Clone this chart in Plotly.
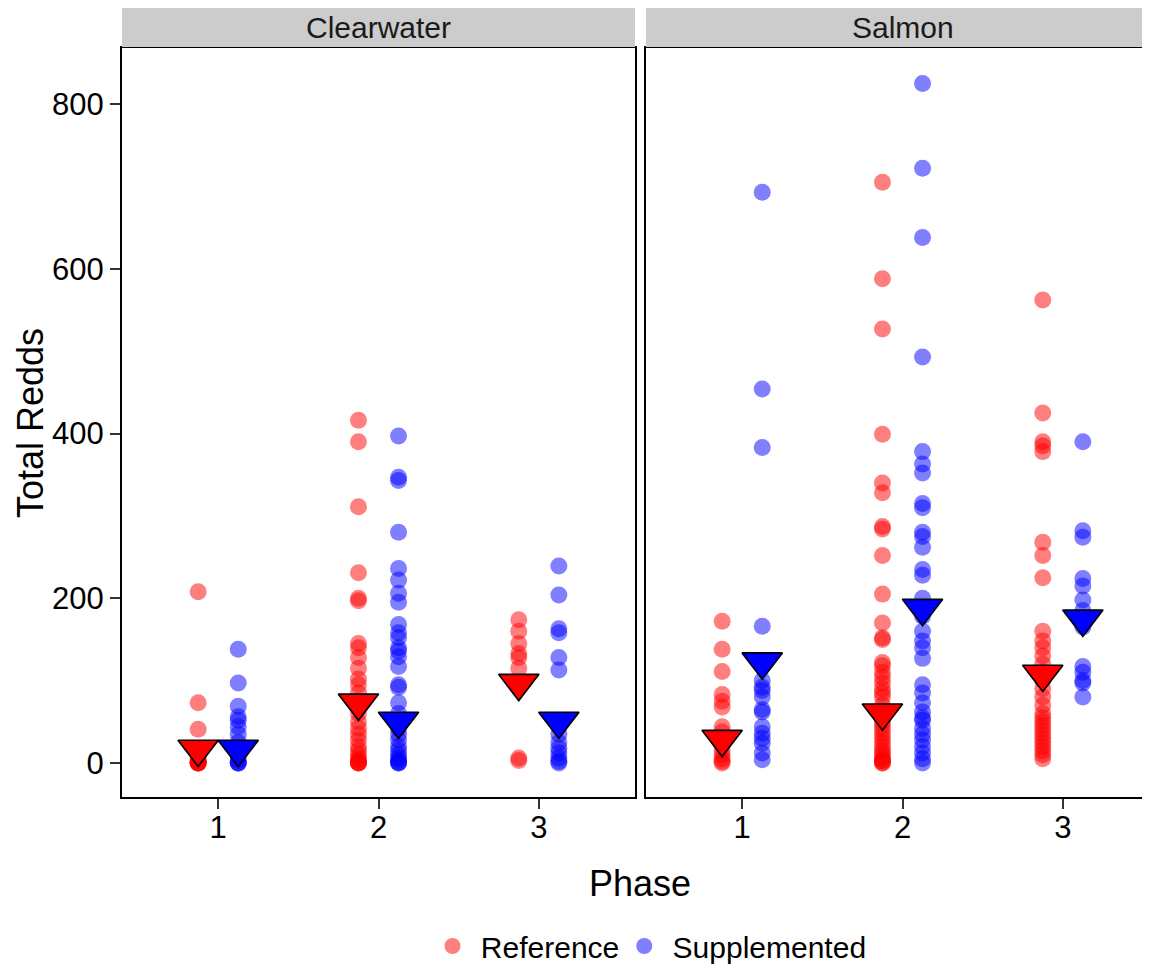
import plotly.graph_objects as go

phases = [1, 2, 3]
rivers = ["Clearwater", "Salmon"]
groups = ["Reference", "Supplemented"]

# Clearwater redds by phase
cw_ref_p1 = [208, 73, 41, 10, 5, 3, 2, 0, 0, 0, 0, 0]
cw_ref_p2 = [416, 390, 311, 231, 200, 197, 145, 140, 128, 115, 102, 95, 85, 72, 60, 50,
             42, 35, 28, 20, 15, 10, 6, 3, 1, 0, 0, 0]
cw_ref_p3 = [174, 160, 145, 133, 128, 115, 6, 3]
cw_sup_p1 = [138, 97, 69, 56, 52, 44, 35, 25, 15, 8, 3, 0, 0, 0]
cw_sup_p2 = [397, 347, 343, 280, 236, 222, 206, 195, 168, 158, 152, 140, 136, 129, 117, 95,
             92, 73, 60, 50, 42, 35, 28, 20, 15, 10, 6, 3, 1, 0, 0]
cw_sup_p3 = [239, 204, 163, 158, 128, 113, 45, 35, 25, 18, 12, 6, 2, 0]

# Salmon redds by phase
sa_ref_p1 = [172, 138, 111, 83, 75, 68, 44, 38, 30, 22, 15, 10, 5, 2, 0]
sa_ref_p2 = [705, 588, 527, 399, 340, 328, 287, 284, 252, 205, 170, 152, 150, 122, 118, 110,
             104, 97, 90, 85, 80, 70, 60, 55, 50, 45, 40, 35, 30, 25, 20, 15, 12, 8, 5, 3, 2, 0, 0]
sa_ref_p3 = [562, 425, 390, 385, 378, 268, 252, 225, 160, 148, 140, 130, 120, 110, 100, 90,
             80, 70, 60, 55, 50, 45, 40, 35, 30, 25, 20, 15, 10, 5]
sa_sup_p1 = [693, 454, 383, 166, 100, 92, 88, 80, 65, 62, 44, 36, 30, 24, 12, 4]
sa_sup_p2 = [825, 722, 638, 493, 378, 363, 352, 315, 310, 280, 275, 262, 235, 228, 200, 178,
             160, 148, 140, 127, 95, 85, 73, 62, 55, 52, 42, 35, 28, 20, 12, 5, 0]
sa_sup_p3 = [390, 282, 274, 224, 215, 198, 185, 165, 117, 110, 100, 97, 80]

# group means (triangles)
cw_ref_mean = [17, 73, 97]
cw_sup_mean = [17, 51, 51]
sa_ref_mean = [29, 61, 108]
sa_sup_mean = [123, 188, 175]

points = {
    ("Clearwater", "Reference"): [cw_ref_p1, cw_ref_p2, cw_ref_p3],
    ("Clearwater", "Supplemented"): [cw_sup_p1, cw_sup_p2, cw_sup_p3],
    ("Salmon", "Reference"): [sa_ref_p1, sa_ref_p2, sa_ref_p3],
    ("Salmon", "Supplemented"): [sa_sup_p1, sa_sup_p2, sa_sup_p3],
}
means = {
    ("Clearwater", "Reference"): cw_ref_mean,
    ("Clearwater", "Supplemented"): cw_sup_mean,
    ("Salmon", "Reference"): sa_ref_mean,
    ("Salmon", "Supplemented"): sa_sup_mean,
}

pt_col = {"Reference": "rgba(255,0,0,0.5)", "Supplemented": "rgba(0,0,255,0.5)"}
mean_col = {"Reference": "#FF0000", "Supplemented": "#0000FF"}
dodge = {"Reference": -0.125, "Supplemented": 0.125}
FONT = "Liberation Sans, Arial, sans-serif"

fig = go.Figure()
for i, river in enumerate(rivers):
    xa = "x" if i == 0 else "x2"
    ya = "y" if i == 0 else "y2"
    for g in groups:
        xs, ys = [], []
        for ph, vals in zip(phases, points[(river, g)]):
            xs += [ph + dodge[g]] * len(vals)
            ys += vals
        fig.add_trace(go.Scatter(
            x=xs, y=ys, mode="markers", name=" " + g, legendgroup=g, showlegend=(i == 0),
            marker=dict(size=17, color=pt_col[g], line=dict(width=0)),
            xaxis=xa, yaxis=ya, hoverinfo="skip"))
    for g in groups:
        fig.add_trace(go.Scatter(
            x=[ph + dodge[g] for ph in phases], y=means[(river, g)], mode="markers",
            showlegend=False,
            marker=dict(symbol="triangle-down", size=35, color=mean_col[g],
                        line=dict(width=1.6, color="black")),
            xaxis=xa, yaxis=ya, hoverinfo="skip"))

# page body has an 8px margin, so the figure is a bit smaller than the window
OFF = 8
W, H = 1150 - OFF, 964 - OFF
ml, mr, mt, mb = 122 - OFF, 0, 48 - OFF, 167
pw = W - ml - mr
ph_ = H - mt - mb
split1 = (635 - 122) / pw
split2 = (646 - 122) / pw
bottom = H - mb  # y pixel (figure coords) of panel bottom

# the right facet is cut by the image edge: same x scale as the left one
left_w = 635 - 122
right_w = pw - (646 - 122)
x_range_left = [0.4, 3.6]
x_range_right = [0.4, 0.4 + 3.2 * right_w / left_w]


def px_y(y_screen):
    return (bottom - (y_screen - OFF)) / ph_


def px_x(x_screen):
    return (x_screen - OFF - ml) / pw


xcommon = dict(tickvals=phases, ticktext=[str(p) for p in phases],
               showline=True, linecolor="black", linewidth=2, mirror=True,
               ticks="outside", ticklen=10, tickwidth=2, tickcolor="#333333",
               ticklabelstandoff=-8,
               showgrid=False, zeroline=False, automargin=False,
               tickfont=dict(family=FONT, size=31, color="black"))
ycommon = dict(range=[-41.3, 868], tickvals=[0, 200, 400, 600, 800],
               showline=True, linecolor="black", linewidth=2,
               showgrid=False, zeroline=False, automargin=False)

fig.update_layout(
    width=W, height=H,
    margin=dict(l=ml, r=mr, t=mt, b=mb, autoexpand=False),
    plot_bgcolor="white", paper_bgcolor="white",
    xaxis=dict(domain=[0, split1], anchor="y", range=x_range_left, **xcommon),
    xaxis2=dict(domain=[split2, 1], anchor="y2", range=x_range_right, **xcommon),
    yaxis=dict(domain=[0, 1], anchor="x", ticks="outside", ticklen=10, tickwidth=2,
               tickcolor="#333333", mirror=True,
               tickfont=dict(family=FONT, size=31, color="black"), **ycommon),
    yaxis2=dict(domain=[0, 1], anchor="x2", matches="y", showticklabels=False, ticks="",
                mirror=False, **ycommon),
    showlegend=True,
    legend=dict(orientation="h", x=px_x(652), xanchor="center", y=px_y(946), yanchor="middle",
                font=dict(family=FONT, size=30, color="black"), itemwidth=30,
                bgcolor="rgba(0,0,0,0)"),
)

for i, river in enumerate(rivers):
    x0, x1 = (0, split1) if i == 0 else (split2, 1)
    fig.add_shape(type="rect", xref="paper", yref="paper", x0=x0, x1=x1,
                  y0=px_y(47), y1=px_y(6), fillcolor="#CCCCCC", line=dict(width=0))
    # strip label centred on the full facet width
    cx = (122 + 635) / 2 if i == 0 else 646 + left_w / 2
    fig.add_annotation(text=river, xref="paper", yref="paper", x=px_x(cx),
                       y=px_y(28), showarrow=False, xanchor="center", yanchor="middle",
                       font=dict(family=FONT, size=30, color="#1a1a1a"))

fig.add_annotation(text="Phase", xref="paper", yref="paper", x=px_x(640),
                   y=px_y(883), showarrow=False, xanchor="center", yanchor="middle",
                   font=dict(family=FONT, size=36, color="black"))
fig.add_annotation(text="Total Redds", xref="paper", yref="paper", x=px_x(30),
                   y=px_y(423), showarrow=False, xanchor="center", yanchor="middle",
                   textangle=-90, font=dict(family=FONT, size=36, color="black"))

fig.write_html("out.html")
